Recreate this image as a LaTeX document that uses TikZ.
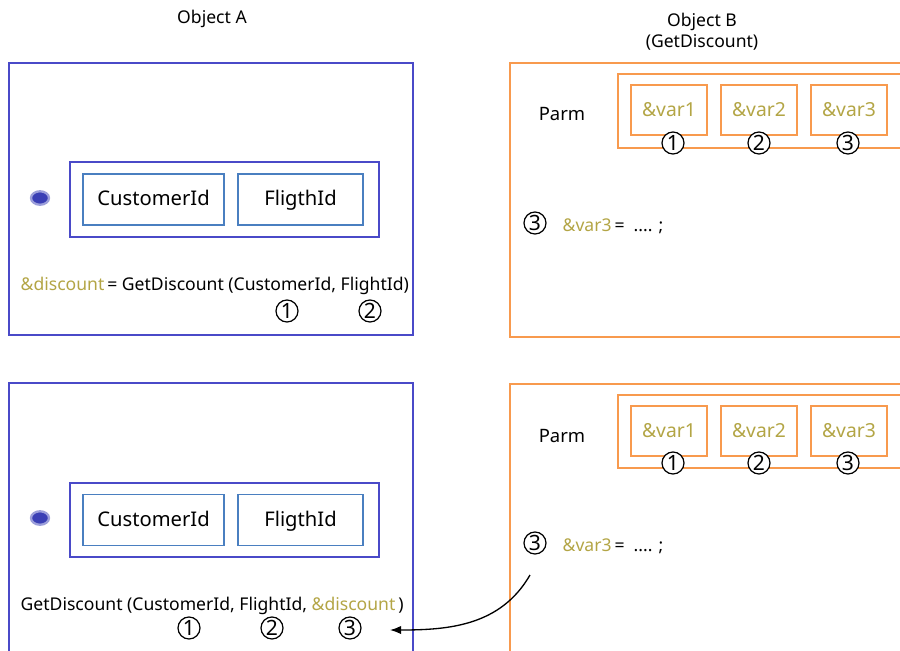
\documentclass[tikz,border=0pt]{standalone}
\usepackage{fontspec}
\setmainfont{Noto Sans}
\usetikzlibrary{arrows.meta, positioning, calc, shapes.geometric}
\definecolor{objblue}{HTML}{4A4AC8}
\definecolor{fieldblue}{HTML}{4A7FC0}
\definecolor{dotblue}{HTML}{3A3FB5}
\definecolor{parmorange}{HTML}{F89A4E}
\definecolor{varolive}{HTML}{B3A545}

\begin{document}
\begin{tikzpicture}[x=0.02cm, y=-0.02cm, line width=0.75pt,
      field/.style={draw=fieldblue, minimum height=1.02cm, text height=1.6ex,
        text depth=0.3ex, font=\fontsize{11.5}{13}\selectfont},
      varbox/.style={draw=parmorange, minimum width=1.52cm, minimum height=1cm,
        text=varolive, font=\fontsize{11}{13}\selectfont},
      num/.style={draw, circle, fill=white, minimum size=0.44cm, inner sep=0pt,
        line width=0.7pt, font=\fontsize{12}{13}\selectfont},
      code/.style={anchor=base west, inner sep=0pt, font=\fontsize{10}{12}\selectfont},
      title/.style={font=\fontsize{10}{12}\selectfont, align=center},
      bullet/.style={ellipse, fill=dotblue, draw=dotblue!50, line width=1.3pt,
        minimum width=0.36cm, minimum height=0.27cm, inner sep=0pt},
      >=Latex
    ]
      \useasboundingbox (0,0) rectangle (900,650);
      \begin{scope}
      \clip (0,0) rectangle (900,650);
      % titles
      \node[title] (titleA) at (212,19) {Object A};
      \node[title] (titleB) at (702,32) {Object B\\(GetDiscount)};
      % frames
      \draw[objblue] (9,63) rectangle (413,335);
      \draw[objblue] (9,383) rectangle (413,660);
      \draw[parmorange] (510,63) rectangle (910,337);
      \draw[parmorange] (510,384) rectangle (910,660);
      % object A, top
      \node[bullet] (dotA) at (40,198) {};
      \draw[objblue] (70,162) rectangle (379,237);
      \node[field, minimum width=2.82cm] (custA) at (153.5,199.5) {CustomerId};
      \node[field, minimum width=2.5cm] (fligA) at (300.5,199.5) {FligthId};
      \node[code] (callA) at (20,290)
        {\textcolor{varolive}{\&discount}\,= GetDiscount (CustomerId, FlightId)};
      \node[num] (a1) at (287,311) {1};
      \node[num] (a2) at (370,311) {2};
      % object A, bottom
      \node[bullet] (dotC) at (40,518) {};
      \draw[objblue] (70,483) rectangle (379,557);
      \node[field, minimum width=2.82cm] (custC) at (153.5,520) {CustomerId};
      \node[field, minimum width=2.5cm] (fligC) at (300.5,520) {FligthId};
      \node[code] (callC) at (20,610)
        {GetDiscount (CustomerId, FlightId, \textcolor{varolive}{\&discount}\,)};
      \node[num] (c1) at (189,628) {1};
      \node[num] (c2) at (272,628) {2};
      \node[num] (c3) at (350,628) {3};
      % object B, top
      \node[font=\fontsize{10.5}{12}\selectfont] (parmB) at (562,114) {Parm};
      \draw[parmorange] (618,74) rectangle (910,148);
      \node[varbox] (b1) at (669,110) {\&var1};
      \node[varbox] (b2) at (759,110) {\&var2};
      \node[varbox] (b3) at (849,110) {\&var3};
      \node[num] (nb1) at (673,143) {1};
      \node[num] (nb2) at (759,143) {2};
      \node[num] (nb3) at (848,143) {3};
      \node[num] (qb) at (535,223) {3};
      \node[code] (setB) at (562,231)
        {\textcolor{varolive}{\&var3}\,=\ \ .... ;};
      % object B, bottom
      \node[font=\fontsize{10.5}{12}\selectfont] (parmD) at (562,436) {Parm};
      \draw[parmorange] (618,395) rectangle (910,468);
      \node[varbox] (d1) at (669,431) {\&var1};
      \node[varbox] (d2) at (759,431) {\&var2};
      \node[varbox] (d3) at (849,431) {\&var3};
      \node[num] (nd1) at (673,463) {1};
      \node[num] (nd2) at (759,463) {2};
      \node[num] (nd3) at (848,463) {3};
      \node[num] (qd) at (535,543) {3};
      \node[code] (setD) at (562,551)
        {\textcolor{varolive}{\&var3}\,=\ \ .... ;};
      % return value
      \coordinate (retfrom) at (530,575);
      \coordinate (retto) at (390,630);
      \draw[->] (retfrom) to[out=240, in=0] (retto);
      \end{scope}
    \end{tikzpicture}
\end{document}
